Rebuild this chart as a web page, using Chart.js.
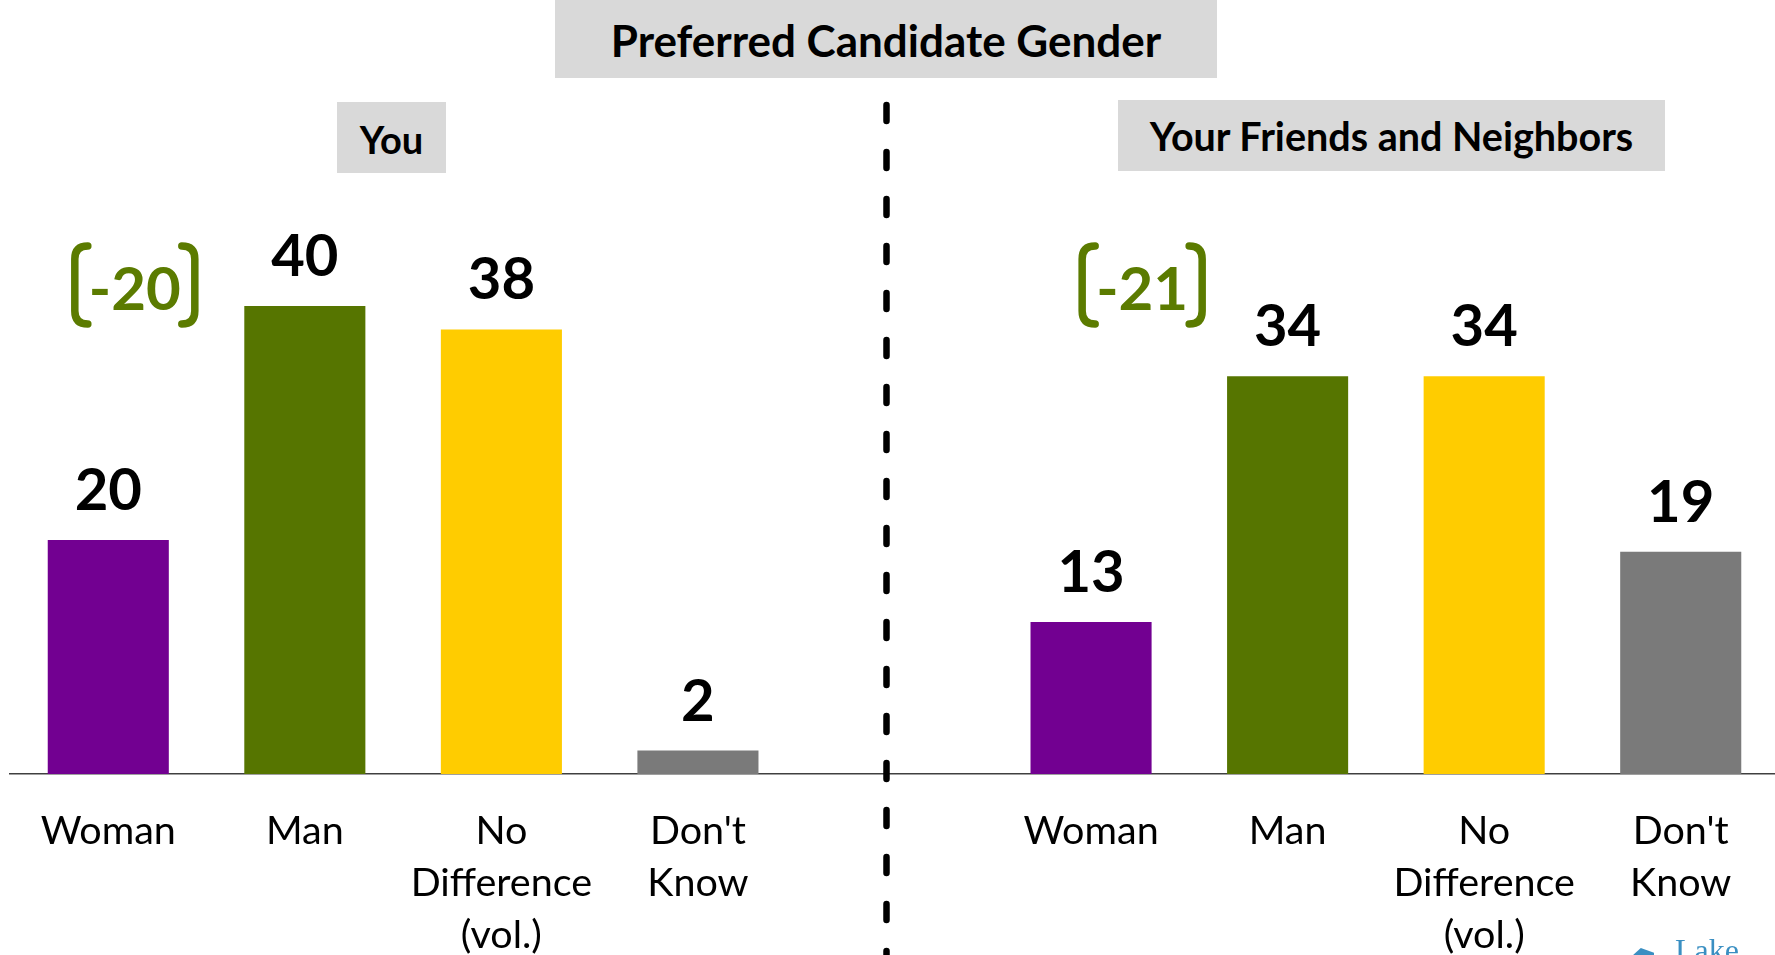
<!DOCTYPE html>
<html>
<head>
<meta charset="utf-8">
<script src="https://cdn.jsdelivr.net/npm/chart.js@4.4.0/dist/chart.umd.min.js"></script>
<style>
  html, body { margin: 0; padding: 0; background: #fff; overflow: hidden; }
  #wrap { position: relative; width: 1775px; height: 955px; overflow: hidden; }
  #chart { position: absolute; left: 0; top: 0; }
  .box {
    position: absolute; background: #d9d9d9; color: #000;
    font-family: Lato, sans-serif; font-weight: bold; text-align: center;
  }
  #title { left: 555px; top: 0; width: 662px; height: 78px; line-height: 80px; font-size: 44px; }
  #you { left: 337px; top: 102px; width: 109px; height: 71px; line-height: 74px; font-size: 38px; }
  #friends { left: 1118px; top: 100px; width: 547px; height: 71px; line-height: 72px; font-size: 39.5px; }
  #logo {
    position: absolute; left: 1675px; top: 934px; color: #3a8fc2;
    font-family: "Liberation Serif", serif; font-size: 32px; line-height: 32px;
  }
  #swoosh {
    position: absolute; left: 1632px; top: 948px; width: 22px; height: 8px; background: #3a8fc2;
    clip-path: polygon(0 100%, 40% 0, 100% 60%, 100% 100%);
  }
</style>
</head>
<body>
<div id="wrap">
  <canvas id="chart" width="1790" height="955"></canvas>
  <div class="box" id="title">Preferred Candidate Gender</div>
  <div class="box" id="you">You</div>
  <div class="box" id="friends">Your Friends and Neighbors</div>
  <div id="swoosh"></div>
  <div id="logo">Lake</div>
</div>
<script>
// data
const tickLabels = [['Woman'], ['Man'], ['No', 'Difference', '(vol.)'], ["Don't", 'Know']];
const youValues = [20, 40, 38, 2];
const friendsValues = [13, 34, 34, 19];
const netGaps = ['-20', '-21'];
const barColors = ['#720091', '#567500', '#ffcc00', '#7a7a7a'];

// one chart, empty slot in the middle between the two groups
const labels = [...tickLabels, [''], ...tickLabels];
const values = [...youValues, null, ...friendsValues];
const colors = [...barColors, 'rgba(0,0,0,0)', ...barColors];

const FONT = 'Lato, sans-serif';

// value labels on top of bars
const valueLabels = {
  id: 'valueLabels',
  afterDatasetsDraw(chart) {
    const ctx = chart.ctx;
    const meta = chart.getDatasetMeta(0);
    ctx.save();
    ctx.font = 'bold 58px ' + FONT;
    ctx.fillStyle = '#000';
    ctx.textAlign = 'center';
    ctx.textBaseline = 'alphabetic';
    meta.data.forEach((bar, i) => {
      if (values[i] == null) return;
      ctx.fillText(String(values[i]), bar.x, bar.y - 30);
    });
    ctx.restore();
  }
};

// green bracketed gap numbers
const gapBrackets = {
  id: 'gapBrackets',
  afterDatasetsDraw(chart, args, opts) {
    const ctx = chart.ctx;
    const xs = chart.scales.x;
    const ys = chart.scales.y;
    ctx.save();
    netGaps.forEach((txt, i) => {
      const cx = xs.getPixelForValue(opts.at[i]);
      const cy = ys.getPixelForValue(opts.level);
      const hw = 60, hh = 39, arm = 13, r = 13;
      ctx.strokeStyle = opts.color;
      ctx.lineWidth = 7.5;
      ctx.lineCap = 'round';
      // left bracket
      ctx.beginPath();
      ctx.moveTo(cx - hw + arm, cy - hh);
      ctx.quadraticCurveTo(cx - hw, cy - hh, cx - hw, cy - hh + r);
      ctx.lineTo(cx - hw, cy + hh - r);
      ctx.quadraticCurveTo(cx - hw, cy + hh, cx - hw + arm, cy + hh);
      ctx.stroke();
      // right bracket
      ctx.beginPath();
      ctx.moveTo(cx + hw - arm, cy - hh);
      ctx.quadraticCurveTo(cx + hw, cy - hh, cx + hw, cy - hh + r);
      ctx.lineTo(cx + hw, cy + hh - r);
      ctx.quadraticCurveTo(cx + hw, cy + hh, cx + hw - arm, cy + hh);
      ctx.stroke();
      ctx.font = 'bold 60px ' + FONT;
      ctx.fillStyle = opts.color;
      ctx.textAlign = 'center';
      ctx.textBaseline = 'alphabetic';
      ctx.fillText(txt, cx, cy + 25);
    });
    ctx.restore();
  }
};

// dashed divider between the two groups
const divider = {
  id: 'divider',
  afterDraw(chart) {
    const ctx = chart.ctx;
    const xs = chart.scales.x;
    const x = (xs.getPixelForValue(3) + xs.getPixelForValue(5)) / 2 - 8;
    ctx.save();
    ctx.strokeStyle = '#000';
    ctx.lineWidth = 6.5;
    ctx.lineCap = 'round';
    ctx.setLineDash([16, 31]);
    ctx.beginPath();
    ctx.moveTo(x, 105);
    ctx.lineTo(x, 955);
    ctx.stroke();
    ctx.restore();
  }
};

new Chart(document.getElementById('chart'), {
  type: 'bar',
  data: {
    labels: labels,
    datasets: [{
      data: values,
      backgroundColor: colors,
      borderWidth: 0,
      categoryPercentage: 1,
      barPercentage: 0.616
    }]
  },
  options: {
    responsive: false,
    animation: false,
    devicePixelRatio: 1,
    layout: { padding: { top: 189, left: 10, right: 11, bottom: 0 } },
    plugins: {
      legend: { display: false },
      tooltip: { enabled: false },
      gapBrackets: { at: [0.135, 5.26], level: 41.8, color: '#5b7b00' }
    },
    scales: {
      x: {
        grid: { display: false, drawTicks: false },
        border: { display: true, color: '#404040', width: 1.5 },
        ticks: {
          color: '#000',
          font: { family: FONT, size: 39.5, lineHeight: 1.32 },
          padding: 31,
          maxRotation: 0,
          autoSkip: false
        },
        afterFit(scale) { scale.height = 181; }
      },
      y: { display: false, min: 0, max: 50 }
    }
  },
  plugins: [valueLabels, gapBrackets, divider]
});
</script>
</body>
</html>
